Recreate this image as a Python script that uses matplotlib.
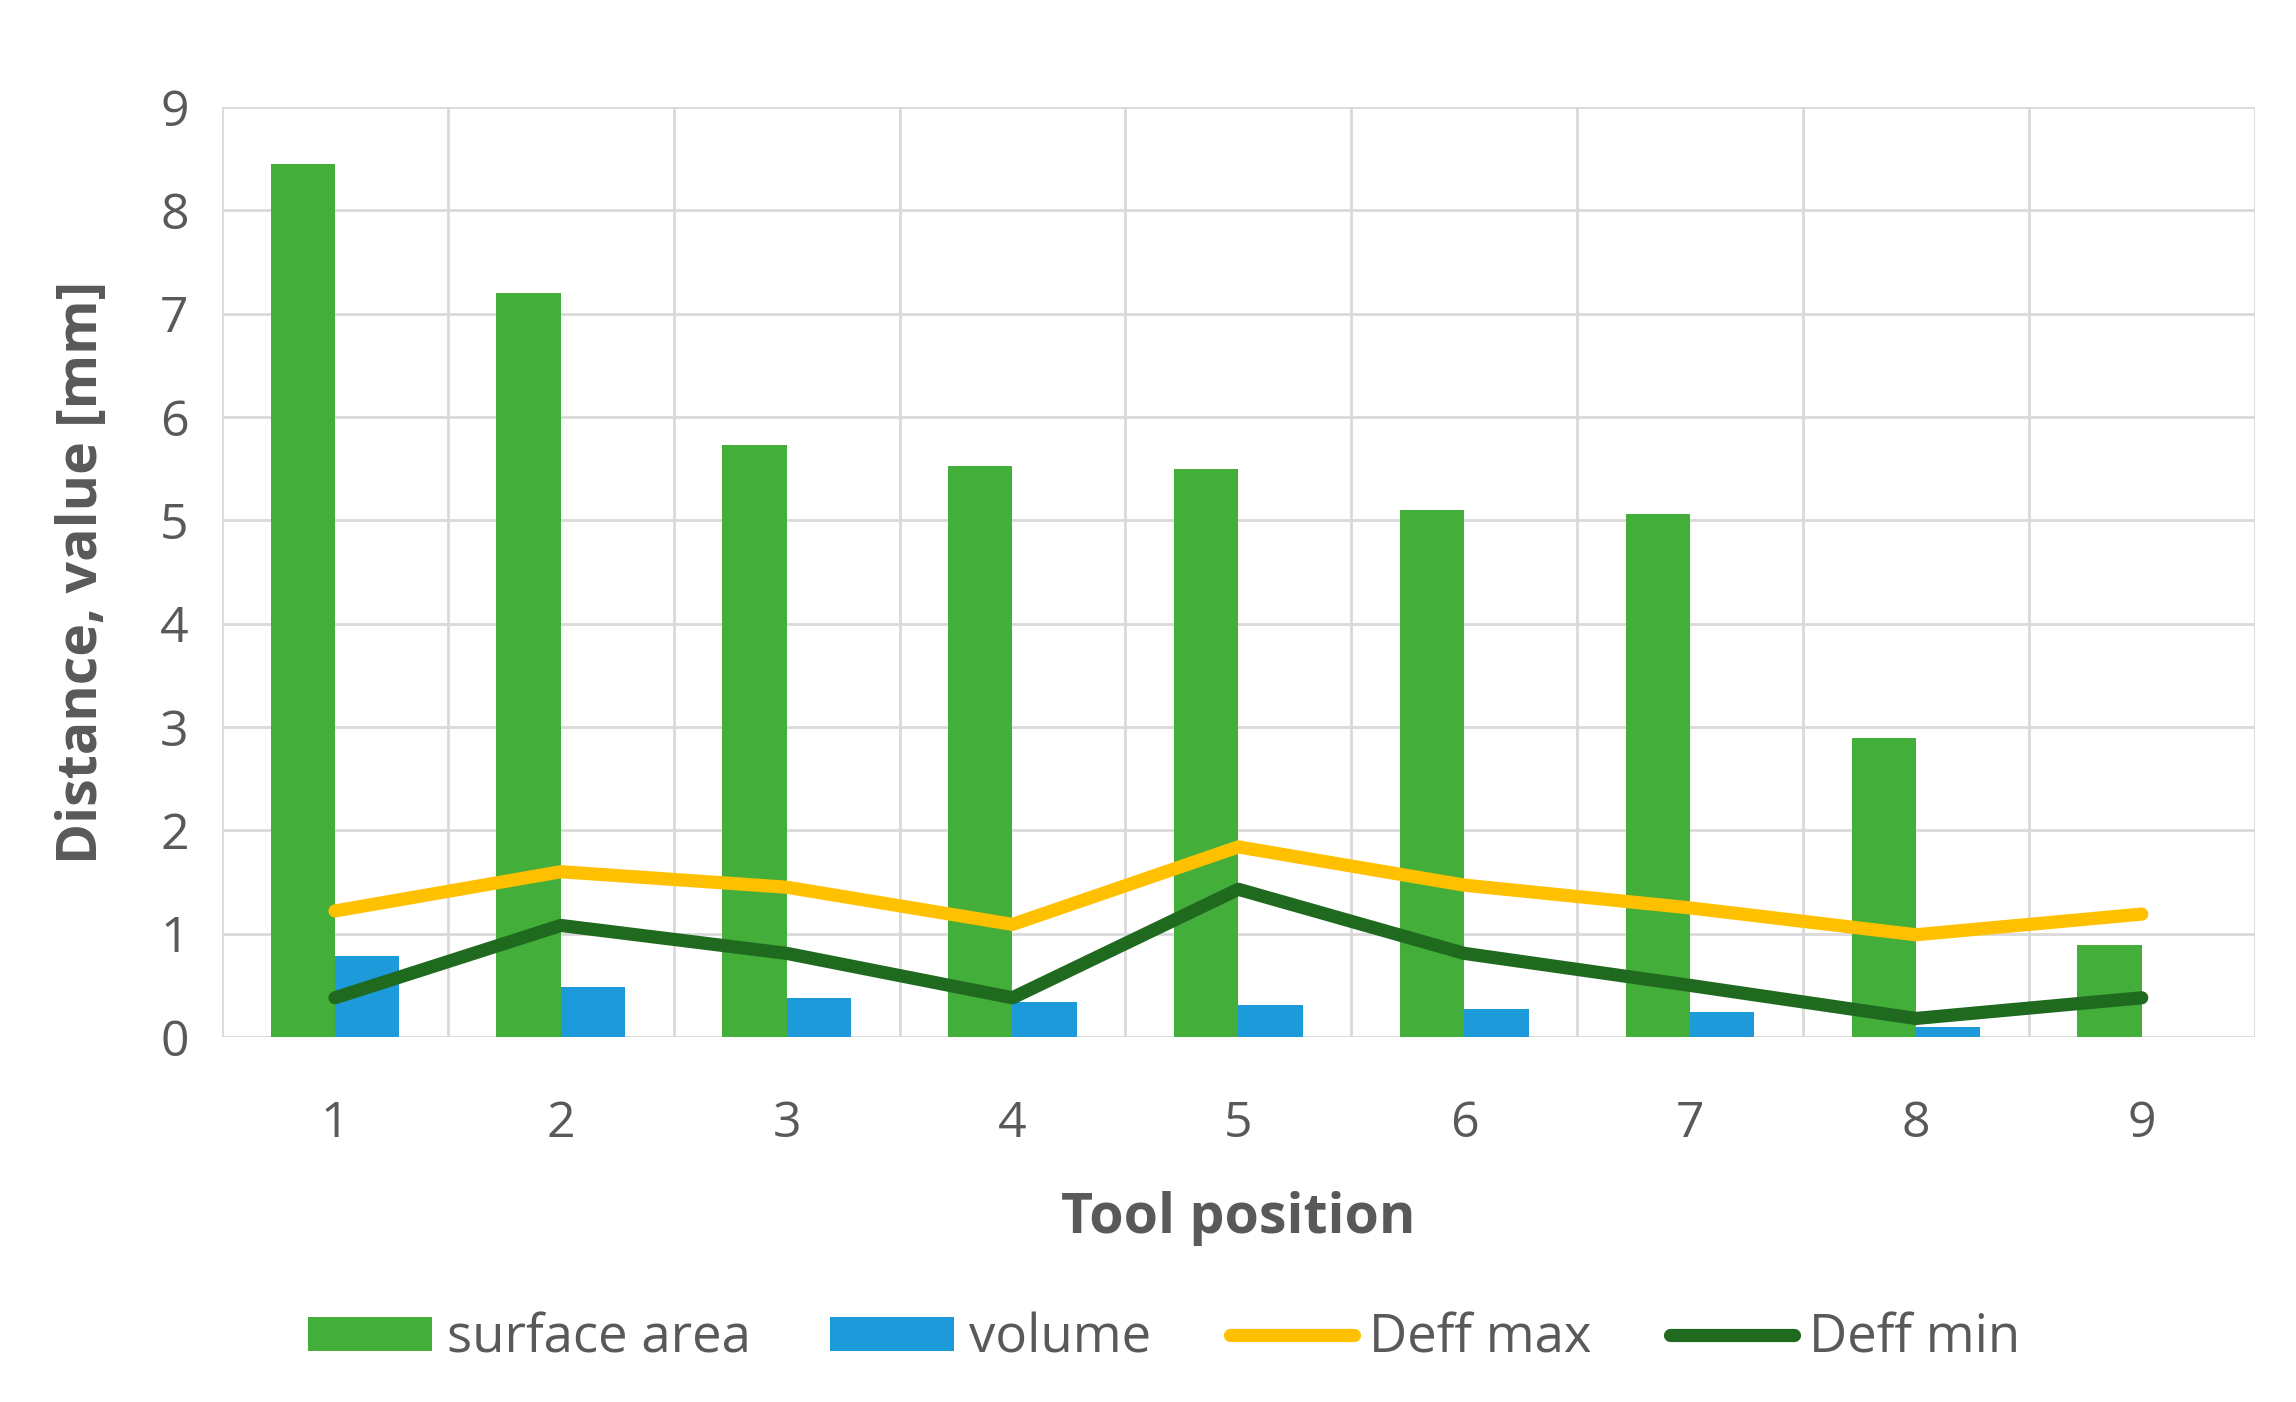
import matplotlib.pyplot as plt
import numpy as np

# data
positions = [1, 2, 3, 4, 5, 6, 7, 8, 9]
surface_area = [8.45, 7.20, 5.73, 5.53, 5.50, 5.10, 5.06, 2.89, 0.89]
volume = [0.78, 0.48, 0.38, 0.34, 0.31, 0.27, 0.24, 0.10, 0.0]
deff_max = [1.22, 1.60, 1.45, 1.09, 1.84, 1.47, 1.25, 0.99, 1.19]
deff_min = [0.38, 1.08, 0.81, 0.38, 1.43, 0.81, 0.50, 0.18, 0.38]

plt.rcParams['font.family'] = ['Open Sans', 'DejaVu Sans']
txt = '#595959'

fig = plt.figure(figsize=(22.96, 14.02), dpi=100)
ax = fig.add_axes([0.0967, 0.2603, 0.8853, 0.6634])

x = np.array(positions)
w = 0.285
b1 = ax.bar(x - w/2, surface_area, w, color='#43AE3A', label='surface area', zorder=2)
b2 = ax.bar(x + w/2, volume, w, color='#1C9ADA', label='volume', zorder=2)
l1, = ax.plot(x, deff_max, color='#FFC000', lw=9.5, solid_capstyle='round', label='Deff max', zorder=3)
l2, = ax.plot(x, deff_min, color='#1F6A1F', lw=9.5, solid_capstyle='round', label='Deff min', zorder=3)

ax.set_xlim(0.5, 9.5)
ax.set_ylim(0, 9)
ax.set_yticks(range(10))
ax.set_xticks(positions)
ax.set_xticks(np.arange(0.5, 10, 1), minor=True)
ax.grid(True, axis='y', color='#D9D9D9', lw=2, zorder=0)
ax.grid(True, axis='x', which='minor', color='#D9D9D9', lw=2, zorder=0)
for s in ax.spines.values():
    s.set_visible(False)
ax.tick_params(which='both', length=0)
ax.tick_params(axis='y', labelsize=36, colors=txt, pad=24)
ax.tick_params(axis='x', labelsize=36, colors=txt, pad=45)

ax.set_xlabel('Tool position', fontsize=40, fontweight='bold', color=txt)
ax.xaxis.set_label_coords(0.5, -0.195)
ax.xaxis.label.set_va('center')
ax.set_ylabel('Distance, value [mm]', fontsize=40, fontweight='bold', color=txt)
ax.yaxis.set_label_coords(-0.0684, 0.5)
ax.yaxis.label.set_va('center')

fig.legend([b1, b2, l1, l2], ['surface area', 'volume', 'Deff max', 'Deff min'],
           loc='center', bbox_to_anchor=(0.507, 0.045), ncol=4, frameon=False,
           fontsize=38, labelcolor=txt, handlelength=2.35, handletextpad=0.28,
           columnspacing=1.5, handleheight=0.6)

fig.savefig('out.png', dpi=100)
